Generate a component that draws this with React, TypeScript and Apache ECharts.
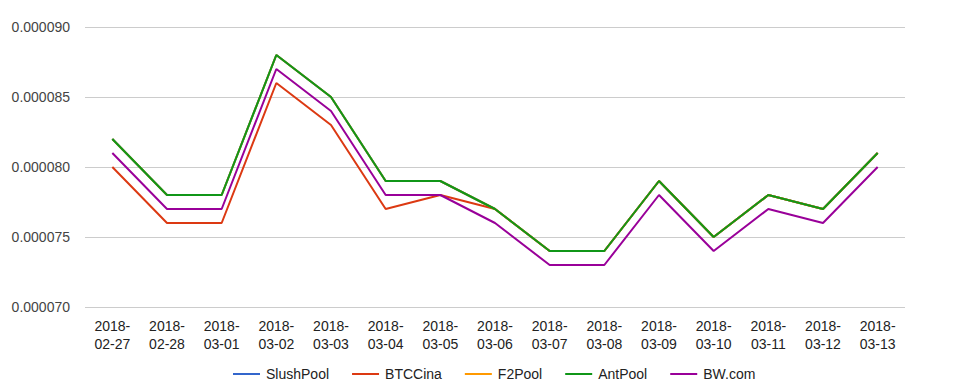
import React, { useEffect, useRef } from "react";
import * as echarts from "echarts";

const categories = [
  "2018-02-27", "2018-02-28", "2018-03-01", "2018-03-02", "2018-03-03",
  "2018-03-04", "2018-03-05", "2018-03-06", "2018-03-07", "2018-03-08",
  "2018-03-09", "2018-03-10", "2018-03-11", "2018-03-12", "2018-03-13",
];

const slushPool = [0.000082, 0.000078, 0.000078, 0.000088, 0.000085, 0.000079, 0.000079, 0.000077, 0.000074, 0.000074, 0.000079, 0.000075, 0.000078, 0.000077, 0.000081];
const btcCina = [0.00008, 0.000076, 0.000076, 0.000086, 0.000083, 0.000077, 0.000078, 0.000077, 0.000074, 0.000074, 0.000079, 0.000075, 0.000078, 0.000077, 0.000081];
const f2Pool = [0.000082, 0.000078, 0.000078, 0.000088, 0.000085, 0.000079, 0.000079, 0.000077, 0.000074, 0.000074, 0.000079, 0.000075, 0.000078, 0.000077, 0.000081];
const antPool = [0.000082, 0.000078, 0.000078, 0.000088, 0.000085, 0.000079, 0.000079, 0.000077, 0.000074, 0.000074, 0.000079, 0.000075, 0.000078, 0.000077, 0.000081];
const bwCom = [0.000081, 0.000077, 0.000077, 0.000087, 0.000084, 0.000078, 0.000078, 0.000076, 0.000073, 0.000073, 0.000078, 0.000074, 0.000077, 0.000076, 0.00008];

const seriesNames = ["SlushPool", "BTCCina", "F2Pool", "AntPool", "BW.com"];
const seriesColors = ["#3366cc", "#dc3912", "#ff9900", "#109618", "#990099"];
const seriesData = [slushPool, btcCina, f2Pool, antPool, bwCom];

const FONT = "'Liberation Sans', Arial, sans-serif";

export default function App() {
  const ref = useRef<HTMLDivElement>(null);
  useEffect(() => {
    document.body.style.margin = "0";
    if (!ref.current) return;
    const chart = echarts.init(ref.current, null, { renderer: "svg" });
    chart.setOption({
      animation: false,
      backgroundColor: "#ffffff",
      textStyle: { fontFamily: FONT },
      grid: { left: 85, right: 59, top: 27, bottom: 83, containLabel: false },
      legend: {
        bottom: 9,
        left: 233,
        padding: 0,
        icon: "rect",
        itemWidth: 27,
        itemHeight: 2,
        itemGap: 23,
        textStyle: { fontFamily: FONT, fontSize: 14, color: "#222222", padding: [0, 0, 0, 1] },
        data: seriesNames,
      },
      xAxis: {
        type: "category",
        data: categories,
        boundaryGap: true,
        axisLine: { show: false },
        axisTick: { show: false },
        axisLabel: {
          interval: 0,
          margin: 10,
          fontFamily: FONT,
          fontSize: 14,
          color: "#222222",
          lineHeight: 18,
          formatter: (v: string) => v.slice(0, 5) + "\n" + v.slice(5),
        },
      },
      yAxis: {
        type: "value",
        min: 0.00007,
        max: 0.00009,
        interval: 0.000005,
        axisLine: { show: false },
        axisTick: { show: false },
        splitLine: { lineStyle: { color: "#cccccc", width: 1 } },
        axisLabel: {
          margin: 15,
          fontFamily: FONT,
          fontSize: 14,
          color: "#444444",
          formatter: (v: number) => v.toFixed(6),
        },
      },
      series: seriesNames.map((name, i) => ({
        name,
        type: "line",
        data: seriesData[i],
        color: seriesColors[i],
        symbol: "none",
        lineStyle: { width: 2, color: seriesColors[i] },
      })),
    });
    return () => chart.dispose();
  }, []);
  return <div ref={ref} style={{ width: 964, height: 390 }} />;
}
